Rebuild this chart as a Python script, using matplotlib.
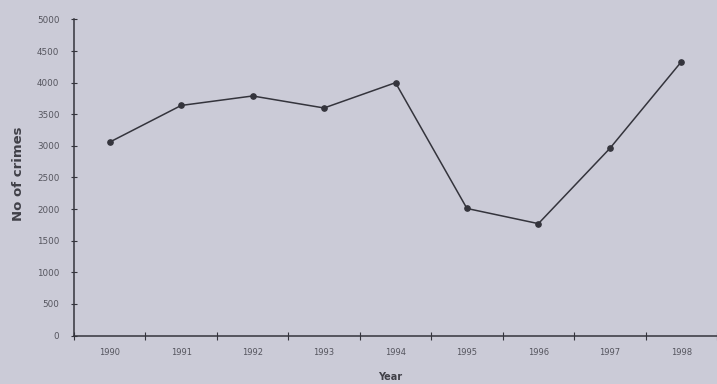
import matplotlib.pyplot as plt

years = ['1990', '1991', '1992', '1993', '1994', '1995', '1996', '1997', '1998']
crimes = [3060, 3640, 3790, 3600, 4000, 2010, 1770, 2960, 4330]

bg = '#cbcbd7'
ink = '#34343c'

fig = plt.figure(figsize=(7.17, 3.84), dpi=100, facecolor=bg)
ax = fig.add_axes([74 / 717, 48.5 / 384, (717 - 74) / 717, 316 / 384])
ax.set_facecolor(bg)

x = range(len(years))
ax.plot(x, crimes, color=ink, linewidth=1.1, marker='o', markersize=3.8)

# category axis: labels between the tick marks, like the old spreadsheet chart
ax.set_xlim(-0.5, 8.45)
ax.set_xticks([i + 0.5 for i in range(-1, 9)], minor=False)
ax.set_xticklabels([])
ax.set_xticks(list(x), minor=True)
ax.set_xticklabels(years, minor=True, fontsize=6, color='#55555e')
ax.tick_params(axis='x', which='minor', length=0, pad=9)
ax.tick_params(axis='x', which='major', direction='inout', length=6, color=ink)

ax.set_ylim(0, 5000)
ax.set_yticks(range(0, 5001, 500))
ax.tick_params(axis='y', direction='inout', length=5, color=ink, labelsize=6.3,
               labelcolor='#55555e', pad=8)

ax.spines['top'].set_visible(False)
ax.spines['right'].set_visible(False)
ax.spines['left'].set_color(ink)
ax.spines['bottom'].set_color(ink)
ax.spines['left'].set_linewidth(1.1)
ax.spines['bottom'].set_linewidth(1.1)

fig.text(19 / 717, 1 - 174 / 384, 'No of crimes', rotation=90, fontsize=9.5,
         fontweight='bold', color='#404048', ha='center', va='center')
fig.text(390 / 717, 1 - 377 / 384, 'Year', fontsize=7, fontweight='bold',
         color='#404048', ha='center', va='center')

fig.savefig('out.png', dpi=100, facecolor=bg)
